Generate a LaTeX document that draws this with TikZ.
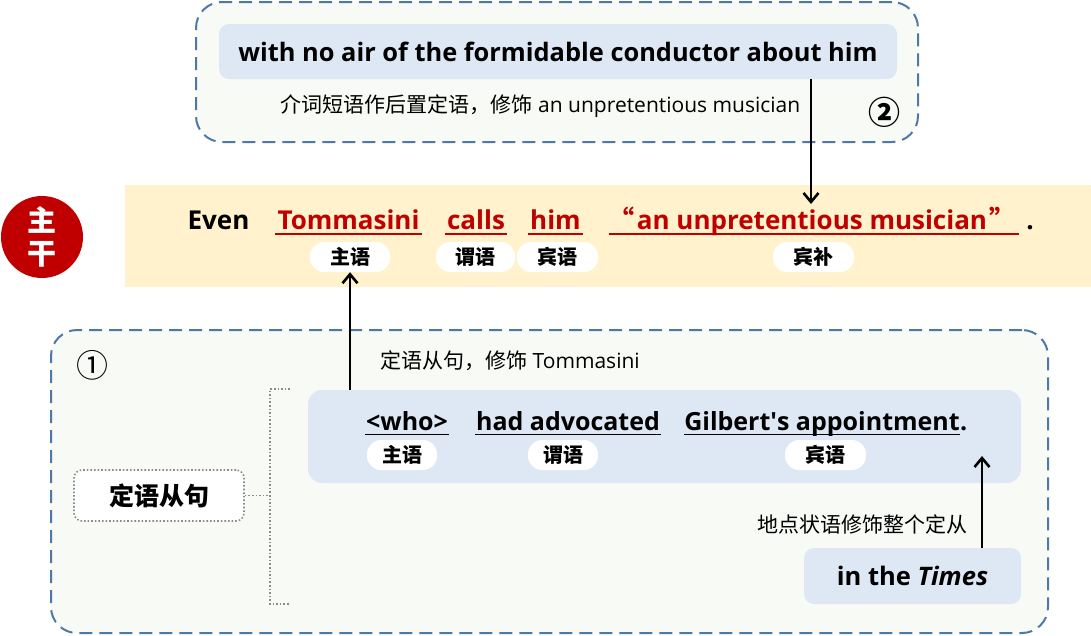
\documentclass[tikz,border=0pt]{standalone}
\usepackage{fontspec}
\setmainfont{Open Sans}
\newfontfamily\cjk{Noto Sans CJK SC}
\usetikzlibrary{arrows.meta,calc}
\definecolor{dashblue}{HTML}{4E79A7}
\definecolor{panelbg}{HTML}{F8FAF5}
\definecolor{lightblue}{HTML}{DEE8F5}
\definecolor{band}{HTML}{FFF2CC}
\definecolor{darkred}{HTML}{C00000}
\definecolor{dotgray}{HTML}{8C8C8C}
\newcommand{\fs}[1]{\fontsize{#1pt}{#1pt}\selectfont}
\tikzset{
  panel/.style={draw=dashblue, line width=2pt, dash pattern=on 13pt off 7pt, fill=panelbg, rounded corners=26pt, inner sep=0pt},
  bluebox/.style={fill=lightblue, rounded corners=10pt, inner sep=0pt},
  pill/.style={fill=white, rounded corners=14pt, minimum height=30pt, inner sep=0pt, font=\cjk\bfseries\fs{20}},
  word/.style={inner xsep=2pt, inner ysep=0pt, anchor=base, font=\bfseries\fs{26}},
  redword/.style={word, text=darkred},
  cword/.style={inner xsep=1pt, inner ysep=0pt, anchor=base, font=\bfseries\fs{25}},
  note/.style={inner sep=0pt, font=\fs{21}},
  arr/.style={line width=2.6pt, -{Straight Barb[length=9pt,width=15pt,line width=2.6pt]}},
  dotline/.style={draw=dotgray, line width=1.6pt, dotted},
}
\begin{document}
\begin{tikzpicture}[x=1pt,y=-1pt]
\useasboundingbox (0,0) rectangle (1091,635);

% top panel
\node[panel, minimum width=722pt, minimum height=140pt] (p2) at (557,72) {};
\node[bluebox, minimum width=678pt, minimum height=55pt, font=\bfseries\fs{25.4}] (withbox) at (558,51.5) {with no air of the formidable conductor about him};
\node[note] (n2) at (540.5,106) {{\cjk 介词短语作后置定语，修饰} an unpretentious musician};
\node[inner sep=0pt, font=\cjk\bfseries\fs{32}] (c2) at (884,112) {②};

% main band
\node[fill=band, minimum width=966pt, minimum height=102pt, inner sep=0pt] (band) at (608,236) {};
\node[circle, fill=darkred, minimum size=82pt, inner sep=0pt, text=white, font=\cjk\bfseries\fs{29}, align=center] (zhugan) at (42,237) {主\\[4pt]干};

\node[word] (even) at (218.5,229) {Even};
\node[redword] (tom) at (348.5,229) {Tommasini};
\node[redword] (calls) at (476,229) {calls};
\node[redword] (him) at (555.5,229) {him};
\node[redword, inner xsep=0pt] (musician) at (814,229) {{\cjk “}\kern2pt an unpretentious musician\kern2pt{\cjk ”}\kern4pt};
\node[word] (dot) at (1030,229) {.};
\foreach \w in {tom,calls,him,musician}
  \draw[darkred, line width=1.6pt] ($(\w.base west)+(0,5)$) -- ($(\w.base east)+(0,5)$);

\node[pill, minimum width=80pt] (zy) at (350,257) {主语};
\node[pill, minimum width=79pt] (wy) at (475.5,257) {谓语};
\node[pill, minimum width=81pt] (by) at (557.5,257) {宾语};
\node[pill, minimum width=81pt] (bb) at (813.5,257) {宾补};

\coordinate (a2end) at (811,204);
\draw[arr] (withbox.south -| a2end) -- (a2end);

% bottom panel
\node[panel, minimum width=997pt, minimum height=303pt] (p1) at (549.5,481.5) {};
\node[inner sep=0pt, font=\cjk\fs{32}] (c1) at (92,365) {①};
\node[bluebox, minimum width=713pt, minimum height=93pt, rounded corners=14pt] (clause) at (664.5,436.5) {};

\node[cword] (who) at (407,430) {<who>};
\node[cword] (had) at (568,430) {had advocated};
\node[cword, inner xsep=0pt] (gil) at (822,430) {Gilbert\textquotesingle s appointment};
\node[cword, inner xsep=0pt, anchor=base west] (gdot) at (gil.base east) {.};
\foreach \w in {who,had,gil}
  \draw[black, line width=1.4pt] ($(\w.base west)+(0,4.5)$) -- ($(\w.base east)+(0,4.5)$);

\node[pill, minimum width=70pt] (zy2) at (402,455) {主语};
\node[pill, minimum width=70pt] (wy2) at (563,455) {谓语};
\node[pill, minimum width=81pt] (by2) at (825.5,455) {宾语};

\node[note, anchor=west] (n1) at (380,361) {{\cjk 定语从句，修饰} Tommasini};
\draw[arr] (clause.north -| zy.south) -- (zy.south);

\node[draw=dotgray, line width=1.6pt, dotted, fill=white, rounded corners=8pt, minimum width=170pt, minimum height=51pt, inner sep=0pt, font=\cjk\bfseries\fs{25}] (dyc) at (159,495.5) {定语从句};
\coordinate (brtop) at (290,389);
\coordinate (brbot) at (290,604);
\coordinate (brmid) at (270,495.5);
\draw[dotline] (brtop) -- (270,389) -- (270,604) -- (brbot);
\draw[dotline] (dyc.east) -- (brmid);

\node[bluebox, minimum width=217pt, minimum height=56pt, font=\bfseries\fs{25.5}] (times) at (912.5,576) {in the \textit{Times}};
\node[note, anchor=east, font=\cjk\fs{21}] (n3) at (968,524) {地点状语修饰整个定从};
\coordinate (a3end) at (982,456);
\draw[arr] (times.north -| a3end) -- (a3end);
\end{tikzpicture}
\end{document}
